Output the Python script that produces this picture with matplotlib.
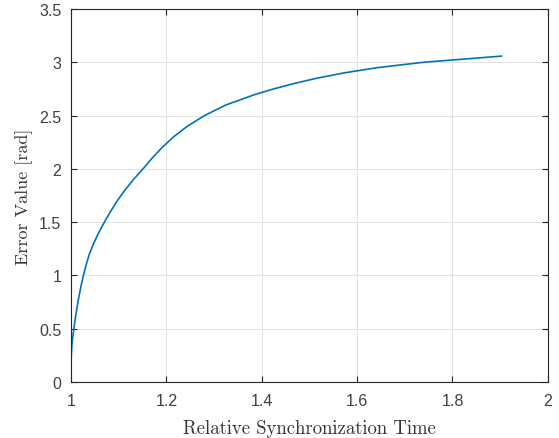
import matplotlib
matplotlib.use("Agg")
import matplotlib.pyplot as plt

# values
sync_time = [1.0000, 1.0003, 1.0012, 1.0030, 1.0060, 1.0092, 1.0127, 1.0166,
             1.0210, 1.0260, 1.0318, 1.0385, 1.0475, 1.0580, 1.0700, 1.0830,
             1.0970, 1.1130, 1.1310, 1.1510, 1.1700, 1.1910, 1.2150, 1.2440,
             1.2800, 1.3250, 1.3875, 1.4250, 1.4670, 1.5150, 1.5720, 1.6430,
             1.7390, 1.9030]
error_val = [0.10, 0.20, 0.30, 0.40, 0.50, 0.60, 0.70, 0.80,
             0.90, 1.00, 1.10, 1.20, 1.30, 1.40, 1.50, 1.60,
             1.70, 1.80, 1.90, 2.00, 2.10, 2.20, 2.30, 2.40,
             2.50, 2.60, 2.70, 2.75, 2.80, 2.85, 2.90, 2.95,
             3.00, 3.058]
xticks = [1, 1.2, 1.4, 1.6, 1.8, 2]
xtick_labels = ["1", "1.2", "1.4", "1.6", "1.8", "2"]
yticks = [0, 0.5, 1, 1.5, 2, 2.5, 3, 3.5]
ytick_labels = ["0", "0.5", "1", "1.5", "2", "2.5", "3", "3.5"]

plt.rcParams['font.family'] = ['Liberation Sans', 'DejaVu Sans']

axcol = '#262626'
fig = plt.figure(figsize=(5.59, 4.39), dpi=100)
ax = fig.add_axes([0.127, 0.1276, 0.853, 0.8496])

ax.plot(sync_time, error_val, color='#0072BD', lw=1.2)

ax.set_xlim(1, 2)
ax.set_ylim(0, 3.5)
ax.set_xticks(xticks)
ax.set_xticklabels(xtick_labels)
ax.set_yticks(yticks)
ax.set_yticklabels(ytick_labels)

ax.grid(True, color='#e3e3e3', lw=0.8)
ax.set_axisbelow(True)
ax.tick_params(direction='in', length=4, width=0.8, colors=axcol,
               labelsize=11.5, top=True, right=True)
ax.tick_params(axis='x', pad=8)
ax.tick_params(axis='y', pad=7)
ax.tick_params(axis='both', labelcolor='#404040')
for s in ax.spines.values():
    s.set_color(axcol)
    s.set_linewidth(0.8)

# latex-like labels
ax.set_xlabel('Relative Synchronization Time', family='cmr10', fontsize=13.5,
              color='#333333', labelpad=8)
ax.set_ylabel('Error Value [rad]', family='cmr10', fontsize=13,
              color='#333333', labelpad=4)

fig.savefig('out.png', dpi=100)
